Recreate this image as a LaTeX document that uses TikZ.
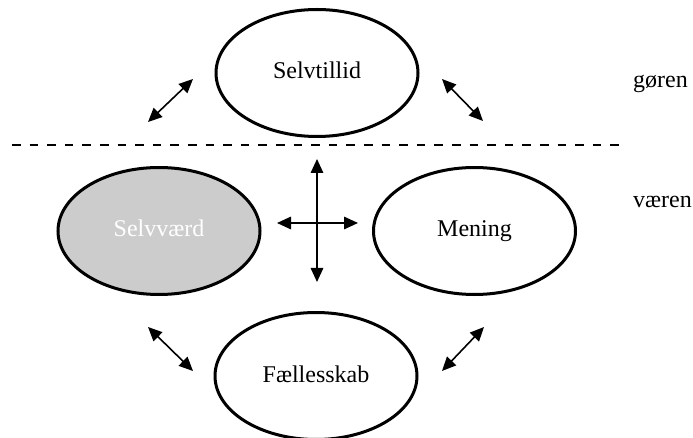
\documentclass[tikz,border=0pt]{standalone}
\usepackage{fontspec}
\setmainfont{Liberation Serif}
\usetikzlibrary{shapes.geometric,arrows.meta}
\begin{document}
\begin{tikzpicture}[x=1pt,y=-1pt,
  oval/.style={ellipse,draw,line width=3pt,minimum width=202pt,minimum height=127pt,inner sep=0pt,
    font=\fontsize{24}{28}\selectfont,text height=16pt,text depth=4pt},
  dbl/.style={line width=1.6pt,{Triangle[length=14pt,width=12.5pt]}-{Triangle[length=14pt,width=12.5pt]}},
  lbl/.style={anchor=base west,inner sep=0pt,font=\fontsize{24}{28}\selectfont}]
\useasboundingbox (0,0) rectangle (693,438);
\node[oval] (tillid) at (317,73) {Selvtillid};
\node[oval,fill={rgb,255:red,204;green,204;blue,204},text=white] (vaerd) at (159,231) {Selvværd};
\node[oval] (mening) at (474.5,231) {Mening};
\node[oval] (faelles) at (316,376) {Fællesskab};
\coordinate (dl) at (12,145);
\coordinate (dr) at (620,145);
\draw[line width=2.5pt,dash pattern=on 8.6pt off 9pt] (dl) -- (dr);
\node[lbl] (goeren) at (633,88) {gøren};
\node[lbl] (vaeren) at (633,208) {væren};
\coordinate (tl1) at (148,122); \coordinate (tl2) at (193,79);
\coordinate (tr1) at (442,79);  \coordinate (tr2) at (483,121);
\coordinate (bl1) at (148,327); \coordinate (bl2) at (193,371);
\coordinate (br1) at (442,371); \coordinate (br2) at (484,327);
\coordinate (vt) at (317,159);  \coordinate (vb) at (317,282);
\coordinate (hl) at (277,223);  \coordinate (hr) at (358,223);
\draw[dbl] (tl1) -- (tl2);
\draw[dbl] (tr1) -- (tr2);
\draw[dbl] (bl1) -- (bl2);
\draw[dbl] (br1) -- (br2);
\draw[dbl] (vt) -- (vb);
\draw[dbl] (hl) -- (hr);
\end{tikzpicture}
\end{document}
